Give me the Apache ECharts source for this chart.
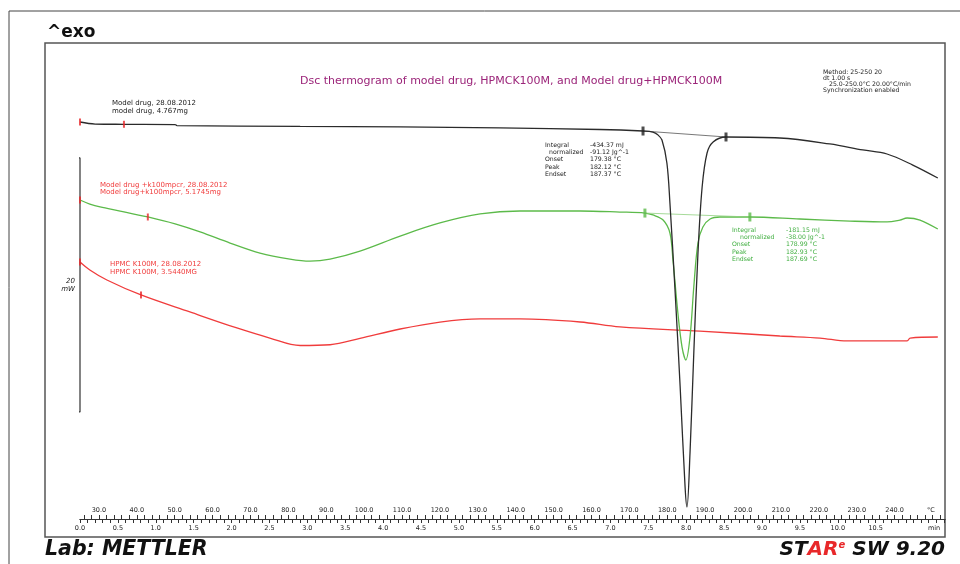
<!DOCTYPE html>
<html>
<head>
<meta charset="utf-8">
<script src="https://cdn.jsdelivr.net/npm/echarts@6/dist/echarts.min.js"></script>
<style>
html, body { margin: 0; padding: 0; background: #fff; }
#chart { width: 960px; height: 564px; }
</style>
</head>
<body>
<div id="chart"></div>
<script>
// Model drug run: temperature (°C) and heat flow (mW, shifted for display)
const drugT  = [25.0, 29.0, 36.6, 50.1, 50.6, 83.1, 109.5, 135.8, 162.2, 173.6, 176.2, 177.5, 178.6, 179.9, 180.7, 182.0, 183.4, 184.7, 185.2, 186.0, 187.0, 188.1, 189.2, 190.5, 192.1, 195.5, 209.7, 222.9, 231.6, 238.0, 244.8, 251.4];
const drugHF = [31.26, 31.10, 31.08, 31.06, 30.98, 30.91, 30.87, 30.79, 30.67, 30.55, 30.47, 30.25, 29.84, 28.03, 24.88, 18.27, 10.39, 2.52, 0.94, 5.20, 13.07, 20.94, 26.14, 28.82, 29.69, 30.08, 30.00, 29.53, 29.06, 28.74, 27.87, 26.85];

// Model drug + K100M run
const mixT  = [25.0, 27.6, 30.3, 35.6, 42.9, 50.1, 56.7, 64.6, 72.5, 80.4, 85.7, 91.0, 98.9, 109.5, 120.0, 130.6, 141.1, 157.0, 167.5, 174.1, 176.2, 178.9, 180.7, 181.5, 182.8, 183.9, 184.9, 186.0, 187.0, 188.1, 189.4, 191.3, 193.9, 201.8, 215.0, 228.2, 238.0, 241.4, 243.3, 246.7, 251.4];
const mixHF = [25.12, 24.80, 24.57, 24.25, 23.78, 23.23, 22.60, 21.73, 20.94, 20.47, 20.31, 20.47, 21.10, 22.28, 23.31, 24.02, 24.25, 24.25, 24.17, 24.09, 23.94, 23.54, 22.52, 20.39, 16.22, 13.54, 12.52, 14.33, 18.27, 21.73, 22.99, 23.62, 23.78, 23.78, 23.62, 23.46, 23.39, 23.54, 23.70, 23.54, 22.83];

// HPMC K100M run
const hpmcT  = [25.0, 27.6, 32.1, 41.1, 54.0, 66.4, 75.1, 83.1, 91.0, 98.9, 109.5, 120.0, 130.6, 141.1, 157.0, 167.5, 188.6, 209.7, 220.3, 227.4, 243.3, 244.1, 251.4];
const hpmcHF = [20.24, 19.61, 18.82, 17.64, 16.30, 15.04, 14.25, 13.66, 13.72, 14.22, 14.96, 15.51, 15.75, 15.75, 15.51, 15.12, 14.80, 14.41, 14.25, 14.02, 14.02, 14.25, 14.33];

// Segment start markers (red) and peak integration limits
const segMarks   = [[25.0, 31.26], [36.6, 31.08], [25.0, 25.12], [42.9, 23.78], [25.0, 20.24], [41.1, 17.64]];
const drugLimits = [[173.6, 30.55], [195.5, 30.08]];
const mixLimits  = [[174.1, 24.09], [201.8, 23.78]];

// 20 mW scale bar
const scaleBar = [[23.7, 28.43], [25.0, 28.43], [25.0, 8.43], [23.7, 8.43]];

// Ruler labels
const tempLabels = [30, 40, 50, 60, 70, 80, 90, 100, 110, 120, 130, 140, 150, 160, 170, 180, 190, 200, 210, 220, 230, 240];
const timeLabels = [0, 0.5, 1, 1.5, 2, 2.5, 3, 3.5, 4, 4.5, 5, 5.5, 6, 6.5, 7, 7.5, 8, 8.5, 9, 9.5, 10, 10.5];
const T_START = 25, T_END = 253.3, RATE = 20;   // °C, °C/min
const TEMP_UNIT_AT = 249.6, TIME_UNIT_AT = 11.27;

const drugEval = ['-434.37 mJ', '-91.12 Jg^-1', '179.38 °C', '182.12 °C', '187.37 °C'];
const mixEval  = ['-181.15 mJ', '-38.00 Jg^-1', '178.99 °C', '182.93 °C', '187.69 °C'];
const evalNames = ['Integral', 'normalized', 'Onset', 'Peak', 'Endset'];

const BLACK = '#2b2b2b', GREEN = '#5cba4a', RED = '#f03c3c';
const FONT = '"DejaVu Sans", Verdana, sans-serif';

const zip = (a, b) => a.map((v, i) => [v, b[i]]);

const tempTicks = [];
for (let t = 26; t <= 252; t += 2) tempTicks.push(t);
const timeTicks = [];
for (let i = 0; i <= 114; i++) timeTicks.push(+(i * 0.1).toFixed(1));

function txt(x, y, s, size, color, extra) {
  return {
    type: 'text', x: x, y: y, silent: true,
    style: Object.assign({
      text: s, fill: color, font: size + 'px ' + FONT,
      textAlign: 'left', textVerticalAlign: 'middle'
    }, extra || {})
  };
}

function evalBlock(x0, indent, xv, ys, color, values) {
  const out = [];
  evalNames.forEach((n, i) => {
    out.push(txt(i === 1 ? x0 + indent : x0, ys[i], n, 6.2, color));
    out.push(txt(xv, ys[i], values[i], 6.2, color));
  });
  return out;
}

const graphics = [
  // outer page frame and plot frame
  { type: 'line', silent: true, shape: { x1: 9, y1: 11, x2: 960, y2: 11 }, style: { stroke: '#444', lineWidth: 1 } },
  { type: 'line', silent: true, shape: { x1: 9, y1: 11, x2: 9, y2: 564 }, style: { stroke: '#444', lineWidth: 1 } },
  { type: 'rect', silent: true, z: -1, shape: { x: 45, y: 43, width: 900, height: 494 }, style: { fill: 'none', stroke: '#555', lineWidth: 1.5 } },
  txt(47, 33, '^exo', 17, '#111', { font: 'bold 17px ' + FONT }),
  txt(45, 550, 'Lab: METTLER', 20, '#111', { font: 'italic bold 20.5px ' + FONT }),
  {
    type: 'text', x: 945, y: 550, silent: true,
    style: {
      text: '{k|ST}{r|AR}{s|e}{k| SW 9.20}', textAlign: 'right', textVerticalAlign: 'middle',
      rich: {
        k: { fill: '#111', font: 'italic bold 20px ' + FONT },
        r: { fill: '#e8282a', font: 'italic bold 20px ' + FONT },
        s: { fill: '#e8282a', font: 'italic bold 10px ' + FONT, verticalAlign: 'top', padding: [0, 0, 9, 0] }
      }
    }
  },
  // method block
  txt(823, 72.5, 'Method: 25-250 20', 6.2, '#222'),
  txt(823, 78.5, 'dt 1.00 s', 6.2, '#222'),
  txt(829, 84.5, '25.0-250.0°C 20.00°C/min', 6.2, '#222'),
  txt(823, 90.5, 'Synchronization enabled', 6.2, '#222'),
  // curve captions
  txt(112, 103, 'Model drug, 28.08.2012', 7, '#222'),
  txt(112, 111, 'model drug, 4.767mg', 7, '#222'),
  txt(100, 185, 'Model drug +k100mpcr, 28.08.2012', 7, RED),
  txt(100, 192.5, 'Model drug+k100mpcr, 5.1745mg', 7, RED),
  txt(110, 264, 'HPMC K100M, 28.08.2012', 7, RED),
  txt(110, 272, 'HPMC K100M, 3.5440MG', 7, RED),
  // scale bar caption
  txt(75, 281, '20', 7, '#222', { textAlign: 'right', font: 'italic 7px ' + FONT }),
  txt(75, 289, 'mW', 7, '#222', { textAlign: 'right', font: 'italic 7px ' + FONT })
]
  .concat(evalBlock(545, 4, 590, [145, 152, 159.5, 167, 174.5], '#222', drugEval))
  .concat(evalBlock(732, 8, 786, [230, 237, 244.5, 252, 259.5], '#3fae3f', mixEval));

const option = {
  animation: false,
  backgroundColor: '#fff',
  title: {
    text: 'Dsc thermogram of model drug, HPMCK100M, and Model drug+HPMCK100M',
    left: 295, top: 71,
    textStyle: { fontSize: 11, fontWeight: 'normal', color: '#9b2479', fontFamily: FONT }
  },
  grid: { left: 80, right: 15, top: 43, bottom: 45 },
  xAxis: [
    {
      type: 'value', min: T_START, max: T_END, position: 'bottom',
      axisLine: { show: true, lineStyle: { color: '#333', width: 1 } },
      axisTick: { show: true, inside: true, length: 4, customValues: tempTicks, lineStyle: { color: '#333' } },
      axisLabel: {
        show: true, inside: true, margin: 5, fontSize: 6.5, color: '#222', fontFamily: FONT,
        customValues: tempLabels.concat([TEMP_UNIT_AT]),
        formatter: v => (v === TEMP_UNIT_AT ? '°C' : v.toFixed(1))
      },
      splitLine: { show: false }
    },
    {
      type: 'value', min: 0, max: (T_END - T_START) / RATE, position: 'bottom',
      axisLine: { show: true, lineStyle: { color: '#333', width: 1 } },
      axisTick: { show: true, inside: false, length: 4, customValues: timeTicks, lineStyle: { color: '#333' } },
      axisLabel: {
        show: true, margin: 6, fontSize: 6.5, color: '#222', fontFamily: FONT,
        customValues: timeLabels.concat([TIME_UNIT_AT]),
        formatter: v => (v === TIME_UNIT_AT ? 'min' : v.toFixed(1))
      },
      splitLine: { show: false }
    }
  ],
  yAxis: { type: 'value', min: 0, max: 37.48, show: false },
  graphic: graphics,
  series: [
    {
      name: 'Model drug', type: 'line', data: zip(drugT, drugHF), showSymbol: false,
      smooth: 0.35, lineStyle: { color: BLACK, width: 1.3 }, z: 4
    },
    {
      name: 'Model drug+k100mpcr', type: 'line', data: zip(mixT, mixHF), showSymbol: false,
      smooth: 0.35, lineStyle: { color: GREEN, width: 1.3 }, z: 3
    },
    {
      name: 'HPMC K100M', type: 'line', data: zip(hpmcT, hpmcHF), showSymbol: false,
      smooth: 0.35, lineStyle: { color: RED, width: 1.3 }, z: 2
    },
    {
      name: 'drug baseline', type: 'line', data: drugLimits, showSymbol: false,
      lineStyle: { color: '#555', width: 0.8 }, z: 3
    },
    {
      name: 'mix baseline', type: 'line', data: mixLimits, showSymbol: false,
      lineStyle: { color: '#8fd07f', width: 0.8 }, z: 3
    },
    {
      name: 'segments', type: 'scatter', data: segMarks, symbol: 'rect', symbolSize: [2, 7],
      itemStyle: { color: '#e8282a' }, z: 5, silent: true
    },
    {
      name: 'drug limits', type: 'scatter', data: drugLimits, symbol: 'rect', symbolSize: [3, 9],
      itemStyle: { color: '#222' }, z: 5, silent: true
    },
    {
      name: 'mix limits', type: 'scatter', data: mixLimits, symbol: 'rect', symbolSize: [3, 9],
      itemStyle: { color: GREEN }, z: 5, silent: true
    },
    {
      name: '20 mW', type: 'line', data: scaleBar, showSymbol: false, clip: false,
      lineStyle: { color: '#333', width: 1.2 }, z: 2
    }
  ]
};

const chart = echarts.init(document.getElementById('chart'), null, { renderer: 'canvas' });
chart.setOption(option);
</script>
</body>
</html>
